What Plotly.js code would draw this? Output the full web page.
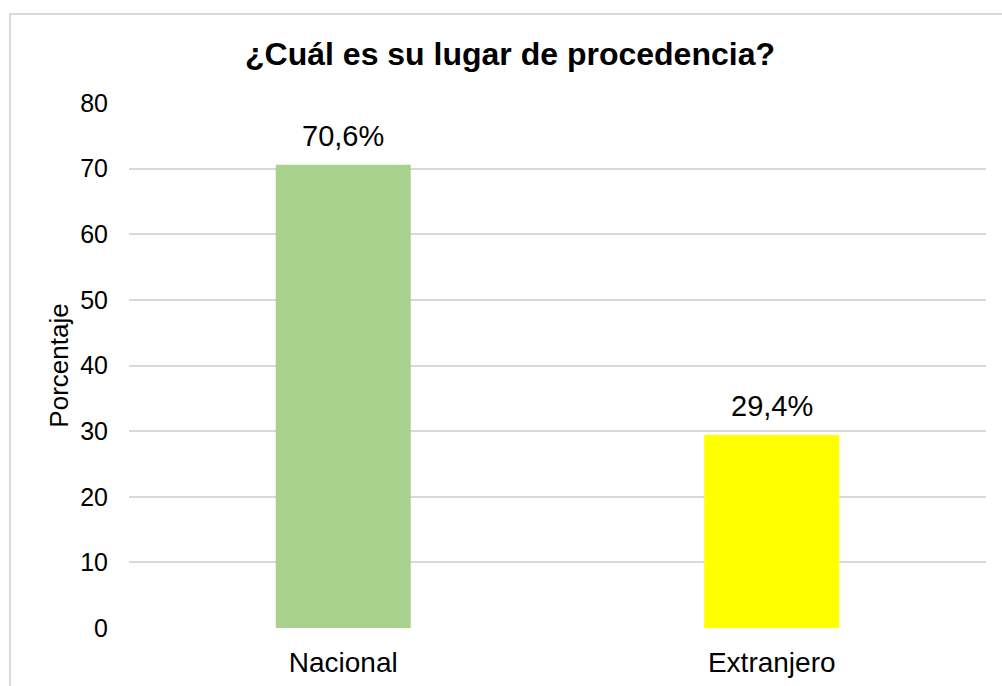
<!DOCTYPE html>
<html>
<head>
<meta charset="utf-8">
<script src="https://cdn.plot.ly/plotly-3.0.1.min.js"></script>
<style>
  html, body { margin: 0; padding: 0; background: #fff; overflow: hidden; }
  #frame { position: absolute; left: 9px; top: 13px; width: 1100px; height: 800px; border: 2px solid #d9d9d9; box-sizing: border-box; }
  #chart { position: absolute; left: 0; top: 0; width: 1002px; height: 686px; }
</style>
</head>
<body>
<div id="frame"></div>
<div id="chart"></div>
<script>
const categories = ["Nacional", "Extranjero"];
const values = [70.6, 29.4];
const labels = ["70,6%", "29,4%"];
const barColors = ["#a9d18e", "#ffff00"];
const yTicks = [0, 10, 20, 30, 40, 50, 60, 70, 80];

const FONT = "Liberation Sans, Arial, sans-serif";

const trace = {
  type: "bar",
  x: categories,
  y: values,
  marker: { color: barColors },
  hoverinfo: "skip"
};

const annotations = categories.map((c, i) => ({
  x: c, y: values[i], xref: "x", yref: "y",
  text: labels[i], showarrow: false,
  xanchor: "center", yanchor: "bottom", yshift: 11,
  font: { family: FONT, size: 29, color: "#000" }
}));

const layout = {
  width: 1002,
  height: 686,
  margin: { l: 129, r: 16, t: 103, b: 58 },
  paper_bgcolor: "rgba(0,0,0,0)",
  plot_bgcolor: "rgba(0,0,0,0)",
  bargap: 0.685,
  showlegend: false,
  font: { family: FONT, color: "#000" },
  annotations: annotations,
  title: {
    text: "<b>¿Cuál es su lugar de procedencia?</b>",
    font: { size: 32, color: "#000", family: FONT },
    xref: "container", x: 0.509, xanchor: "center",
    yref: "container", y: 1 - 54 / 686, yanchor: "middle"
  },
  xaxis: {
    tickfont: { size: 28, color: "#000" },
    showgrid: false,
    zeroline: false,
    showline: false,
    ticks: "outside",
    ticklen: 9,
    tickcolor: "rgba(0,0,0,0)"
  },
  yaxis: {
    range: [0, 80],
    tickvals: yTicks,
    ticktext: yTicks.map(String),
    tickfont: { size: 25, color: "#000" },
    showgrid: true,
    gridcolor: "#d9d9d9",
    gridwidth: 2,
    zeroline: false,
    showline: false,
    ticks: "outside",
    ticklen: 15,
    tickcolor: "rgba(0,0,0,0)",
    title: { text: "Porcentaje", font: { size: 26, color: "#000" }, standoff: 4 }
  }
};

Plotly.newPlot("chart", [trace], layout, { displayModeBar: false, staticPlot: true });
</script>
</body>
</html>
